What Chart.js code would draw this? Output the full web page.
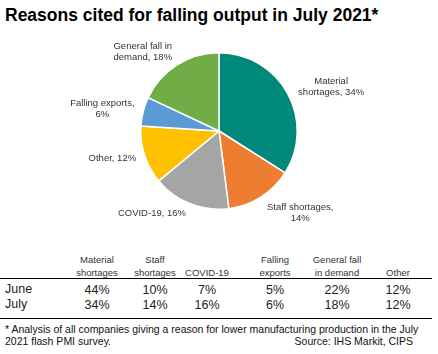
<!DOCTYPE html>
<html>
<head>
<meta charset="utf-8">
<script src="https://cdn.jsdelivr.net/npm/chart.js@4"></script>
<style>
  body { margin: 0; background: #fff; font-family: "Liberation Sans", Arial, sans-serif; }
  #wrap { position: relative; width: 438px; height: 354px; overflow: hidden; }
  #title { position: absolute; left: 5px; top: 5px; font-size: 17.5px; font-weight: bold; color: #000; white-space: nowrap; }
  #chartBox { position: absolute; left: 0; top: 29px; width: 438px; height: 204px; }
  .t { position: absolute; white-space: nowrap; transform: translate(-50%, -50%); color: #222; }
  .hd { font-size: 9.5px; color: #333; }
  .val { font-size: 12.5px; color: #222; }
  .rule { position: absolute; left: 0; width: 432px; height: 1px; background: #000; }
  .note { position: absolute; font-size: 10.5px; color: #111; white-space: nowrap; }
</style>
</head>
<body>
<div id="wrap">
  <div id="title">Reasons cited for falling output in July 2021*</div>
  <div id="chartBox"><canvas id="pie"></canvas></div>
  <div id="table"></div>
  <div class="rule" style="top:278px"></div>
  <div class="rule" style="top:318px"></div>
  <div class="note" style="left:5px; top:323px">* Analysis of all companies giving a reason for lower manufacturing production in the July</div>
  <div class="note" style="left:5px; top:335px">2021 flash PMI survey.</div>
  <div class="note" style="right:25px; top:335px">Source: IHS Markit, CIPS</div>
</div>
<script>
// pie (July)
const pieLabels = [
  ['Material', 'shortages, 34%'],
  ['Staff shortages,', '14%'],
  ['COVID-19, 16%'],
  ['Other, 12%'],
  ['Falling exports,', '6%'],
  ['General fall in', 'demand, 18%']
];
const pieValues = [34, 14, 16, 12, 6, 18];
const pieColors = ['#00897b', '#ed7d31', '#a5a5a5', '#ffc000', '#5b9bd5', '#70ad47'];
// nudges for label placement, per slice
const labelShift = [[12, 11], [20, -15], [-25, -24], [2, -8], [-6, 6], [-15, 17]];

// table
const tableHeads = [['Material', 'shortages'], ['Staff', 'shortages'], ['', 'COVID-19'], ['Falling', 'exports'], ['General fall', 'in demand'], ['', 'Other']];
const rowNames = ['June', 'July'];
const juneValues = [44, 10, 7, 5, 22, 12];
const julyValues = [34, 14, 16, 6, 18, 12];
const colX = [97, 155, 207, 275, 337, 398];

const table = document.getElementById('table');
function addText(txt, x, y, cls) {
  const d = document.createElement('div');
  d.className = 't ' + cls;
  d.style.left = x + 'px';
  d.style.top = y + 'px';
  d.textContent = txt;
  table.appendChild(d);
}
tableHeads.forEach((h, i) => {
  if (h[0]) addText(h[0], colX[i], 259, 'hd');
  addText(h[1], colX[i], 272, 'hd');
});
[juneValues, julyValues].forEach((row, r) => {
  const y = 290 + r * 14.5;
  const name = document.createElement('div');
  name.className = 'val';
  name.style.cssText = `position:absolute;left:5px;top:${y - 8}px;`;
  name.textContent = rowNames[r];
  table.appendChild(name);
  row.forEach((v, i) => addText(v + '%', colX[i], y, 'val'));
});

const outLabels = {
  id: 'outLabels',
  afterDraw(chart) {
    const ctx = chart.ctx;
    const arcs = chart.getDatasetMeta(0).data;
    ctx.save();
    ctx.font = '9.5px "Liberation Sans", Arial, sans-serif';
    ctx.fillStyle = '#333';
    ctx.textAlign = 'center';
    ctx.textBaseline = 'middle';
    arcs.forEach((arc, i) => {
      const p = arc.getProps(['x', 'y', 'startAngle', 'endAngle', 'outerRadius'], true);
      const mid = (p.startAngle + p.endAngle) / 2;
      const d = p.outerRadius + 36;
      const cx = p.x + Math.cos(mid) * d + labelShift[i][0];
      const cy = p.y + Math.sin(mid) * d + labelShift[i][1];
      const lines = pieLabels[i];
      lines.forEach((ln, k) => {
        ctx.fillText(ln, cx, cy + (k - (lines.length - 1) / 2) * 11);
      });
    });
    ctx.restore();
  }
};

new Chart(document.getElementById('pie'), {
  type: 'pie',
  data: {
    labels: pieLabels.map(l => l.join(' ')),
    datasets: [{
      data: pieValues,
      backgroundColor: pieColors,
      borderColor: '#fff',
      borderWidth: 1.5
    }]
  },
  options: {
    responsive: true,
    maintainAspectRatio: false,
    animation: false,
    layout: { padding: { top: 23, bottom: 23 } },
    plugins: { legend: { display: false }, tooltip: { enabled: false } }
  },
  plugins: [outLabels]
});
</script>
</body>
</html>
